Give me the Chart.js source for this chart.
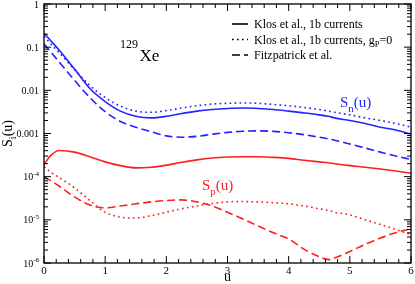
<!DOCTYPE html>
<html>
<head>
<meta charset="utf-8">
<script src="https://cdn.jsdelivr.net/npm/chart.js@4.4.1/dist/chart.umd.min.js"></script>
<style>
  html, body { margin: 0; padding: 0; background: #fff; }
</style>
</head>
<body>
<canvas id="formFactorChart" width="415" height="284"></canvas>
<script>
// momentum transfer u
const uValues = [0, 0.1, 0.25, 0.5, 0.75, 1, 1.25, 1.5, 1.75, 2, 2.25, 2.5, 2.75, 3, 3.25, 3.5, 3.75, 4, 4.25, 4.5, 4.65, 4.75, 5, 5.25, 5.5, 5.75, 6];

// S_n(u) neutron structure factors
const klosN = [0.21, 0.146, 0.085, 0.031, 0.011, 0.0055, 0.0033, 0.0025, 0.0023, 0.0025, 0.0029, 0.0033, 0.0036, 0.0038, 0.0039, 0.0038, 0.0036, 0.0033, 0.003, 0.0027, 0.0025, 0.0023, 0.002, 0.0017, 0.0014, 0.0012, 0.00097];
const klosNgP0 = [0.18, 0.124, 0.074, 0.03, 0.013, 0.0068, 0.0043, 0.0033, 0.0031, 0.0034, 0.0039, 0.0044, 0.0048, 0.005, 0.0051, 0.005, 0.0047, 0.0044, 0.004, 0.0036, 0.0033, 0.0031, 0.0027, 0.0023, 0.002, 0.0017, 0.0014];
const fitzN = [0.12, 0.081, 0.045, 0.017, 0.0068, 0.0032, 0.0019, 0.0014, 0.0011, 0.00088, 0.00082, 0.00086, 0.00096, 0.00106, 0.00113, 0.00115, 0.00112, 0.00104, 0.00094, 0.00082, 0.00075, 0.0007, 0.00057, 0.00046, 0.00037, 0.0003, 0.00025];

// S_p(u) proton structure factors
const klosP = [1.9e-4, 3.0e-4, 4.05e-4, 3.7e-4, 2.9e-4, 2.2e-4, 1.8e-4, 1.6e-4, 1.65e-4, 1.85e-4, 2.15e-4, 2.45e-4, 2.7e-4, 2.85e-4, 2.9e-4, 2.9e-4, 2.8e-4, 2.65e-4, 2.4e-4, 2.2e-4, 2.1e-4, 2.0e-4, 1.8e-4, 1.65e-4, 1.5e-4, 1.35e-4, 1.2e-4];
const klosPgP0 = [1.7e-4, 1.3e-4, 9.5e-5, 5.5e-5, 2.8e-5, 1.5e-5, 1.15e-5, 1.1e-5, 1.25e-5, 1.5e-5, 1.8e-5, 2.1e-5, 2.4e-5, 2.6e-5, 2.65e-5, 2.6e-5, 2.5e-5, 2.35e-5, 2.1e-5, 1.8e-5, 1.65e-5, 1.5e-5, 1.3e-5, 1.0e-5, 7.8e-6, 6.0e-6, 4.5e-6];
const fitzP = [1.0e-4, 8.2e-5, 6.0e-5, 3.4e-5, 2.2e-5, 1.9e-5, 2.1e-5, 2.35e-5, 2.6e-5, 2.8e-5, 2.9e-5, 2.6e-5, 2.1e-5, 1.5e-5, 1.05e-5, 7.2e-6, 5.0e-6, 3.6e-6, 2.1e-6, 1.4e-6, 1.2e-6, 1.3e-6, 1.85e-6, 2.7e-6, 3.8e-6, 5.0e-6, 6.3e-6];

const xTickValues = [0, 1, 2, 3, 4, 5, 6];
const xTickLabels = ['0', '1', '2', '3', '4', '5', '6'];
const xMinorStep = 0.2;
const yTickValues = [1, 0.1, 0.01, 0.001, 1e-4, 1e-5, 1e-6];
const yTickLabels = ['1', '0.1', '0.01', '0.001', '10^-4', '10^-5', '10^-6'];
const legendLabels = ['Klos et al., 1b currents', 'Klos et al., 1b currents, g_P=0', 'Fitzpatrick et al.'];

const blue = 'rgb(35,35,255)';
const red = 'rgb(255,30,30)';
const dotted = [1.7, 3.3];
const dashed = [8, 4];
const serif = '"Liberation Serif", "DejaVu Serif", serif';

function font(size) { return size + 'px ' + serif; }

function toPoints(values) {
    return values.map((v, i) => ({ x: uValues[i], y: v }));
}

// "10^-4" -> superscript rest, "S_n(u)" -> one subscript char
function parseLabel(str, size) {
    const parts = [];
    let buf = '';
    for (let i = 0; i < str.length; i++) {
        const c = str[i];
        if (c === '^') {
            if (buf) parts.push([buf, size, 0]);
            buf = '';
            parts.push([str.slice(i + 1), size * 0.7, -size * 0.45]);
            break;
        }
        if (c === '_') {
            if (buf) parts.push([buf, size, 0]);
            buf = '';
            parts.push([str[i + 1], size * 0.72, size * 0.3]);
            i++;
            continue;
        }
        buf += c;
    }
    if (buf) parts.push([buf, size, 0]);
    return parts;
}

function drawParts(ctx, parts, x, y, align) {
    let w = 0;
    parts.forEach(p => { ctx.font = font(p[1]); w += ctx.measureText(p[0]).width; });
    let cx = align === 'right' ? x - w : align === 'center' ? x - w / 2 : x;
    ctx.textAlign = 'left';
    ctx.textBaseline = 'alphabetic';
    parts.forEach(p => {
        ctx.font = font(p[1]);
        ctx.fillText(p[0], cx, y + p[2]);
        cx += ctx.measureText(p[0]).width;
    });
}

function seg(ctx, x1, y1, x2, y2) {
    ctx.beginPath();
    ctx.moveTo(x1, y1);
    ctx.lineTo(x2, y2);
    ctx.stroke();
}

const decorations = {
    id: 'decorations',
    afterDraw(chart) {
        const { ctx, chartArea: a, scales: { x, y } } = chart;
        ctx.save();
        ctx.strokeStyle = '#000';
        ctx.fillStyle = '#000';

        // frame
        ctx.lineWidth = 1.3;
        ctx.strokeRect(a.left, a.top, a.right - a.left, a.bottom - a.top);

        // x ticks (bottom + top, inward)
        ctx.lineWidth = 1;
        const nx = Math.round((x.max - x.min) / xMinorStep);
        for (let k = 0; k <= nx; k++) {
            const u = x.min + k * xMinorStep;
            const px = x.getPixelForValue(u);
            const major = xTickValues.some(t => Math.abs(t - u) < 1e-6);
            const len = major ? 7 : 4;
            seg(ctx, px, a.bottom, px, a.bottom - len);
            seg(ctx, px, a.top, px, a.top + len);
        }
        // y ticks (left + right, inward)
        for (let d = -6; d <= 0; d++) {
            for (let m = 1; m <= 9; m++) {
                const v = m * Math.pow(10, d);
                if (v > y.max * 1.0001) break;
                const py = y.getPixelForValue(v);
                const len = m === 1 ? 7 : 4;
                seg(ctx, a.left, py, a.left + len, py);
                seg(ctx, a.right, py, a.right - len, py);
            }
        }

        // tick labels
        xTickValues.forEach((v, i) => {
            drawParts(ctx, parseLabel(xTickLabels[i], 11), x.getPixelForValue(v), a.bottom + 11, 'center');
        });
        yTickValues.forEach((v, i) => {
            drawParts(ctx, parseLabel(yTickLabels[i], 10), a.left - 5, y.getPixelForValue(v) + 3.5, 'right');
        });

        // axis titles
        drawParts(ctx, [['u', 14, 0]], (a.left + a.right) / 2, 281, 'center');
        ctx.save();
        ctx.translate(12, (a.top + a.bottom) / 2);
        ctx.rotate(-Math.PI / 2);
        drawParts(ctx, parseLabel('S_i(u)', 14), 0, 0, 'center');
        ctx.restore();

        // legend
        const styles = [[], dotted, dashed];
        const rows = [24, 39.5, 55];
        legendLabels.forEach((label, i) => {
            ctx.lineWidth = 1.6;
            ctx.setLineDash(styles[i]);
            seg(ctx, 232, rows[i], 248, rows[i]);
            ctx.setLineDash([]);
            drawParts(ctx, parseLabel(label, 12), 254, rows[i] + 4, 'left');
        });

        // nucleus label
        drawParts(ctx, [['129', 12, 0]], 120, 48, 'left');
        drawParts(ctx, [['Xe', 17, 0]], 139.5, 61, 'left');

        // curve labels
        ctx.fillStyle = blue;
        drawParts(ctx, parseLabel('S_n(u)', 15), 340, 107, 'left');
        ctx.fillStyle = red;
        drawParts(ctx, parseLabel('S_p(u)', 15), 202, 190, 'left');
        ctx.restore();
    }
};

function series(label, values, color, dash) {
    return {
        label: label,
        data: toPoints(values),
        borderColor: color,
        borderWidth: 1.6,
        borderDash: dash,
        pointRadius: 0,
        fill: false,
        cubicInterpolationMode: 'monotone'
    };
}

const ctx = document.getElementById('formFactorChart').getContext('2d');
const chart = new Chart(ctx, {
    type: 'line',
    data: {
        datasets: [
            series('Klos et al., 1b currents (n)', klosN, blue, []),
            series('Klos et al., 1b currents, gP=0 (n)', klosNgP0, blue, dotted),
            series('Fitzpatrick et al. (n)', fitzN, blue, dashed),
            series('Klos et al., 1b currents (p)', klosP, red, []),
            series('Klos et al., 1b currents, gP=0 (p)', klosPgP0, red, dotted),
            series('Fitzpatrick et al. (p)', fitzP, red, dashed)
        ]
    },
    options: {
        responsive: false,
        animation: false,
        devicePixelRatio: 1,
        layout: { padding: { top: 4, right: 4, left: 0, bottom: 0 } },
        plugins: {
            legend: { display: false },
            tooltip: { enabled: false }
        },
        scales: {
            x: {
                type: 'linear',
                min: 0,
                max: 6,
                grid: { display: false },
                border: { display: false },
                ticks: { display: false },
                afterFit: s => { s.height = 21; }
            },
            y: {
                type: 'logarithmic',
                min: 1e-6,
                max: 1,
                grid: { display: false },
                border: { display: false },
                ticks: { display: false },
                afterFit: s => { s.width = 44; }
            }
        }
    },
    plugins: [decorations]
});
</script>
</body>
</html>
